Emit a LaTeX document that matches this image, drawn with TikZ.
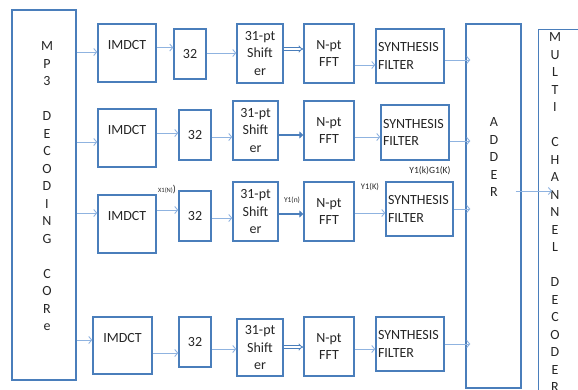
\documentclass[tikz,border=0pt]{standalone}
\usepackage{fontspec}
\setmainfont{Carlito}
\usepackage{xcolor}
\usepackage{tikz}
\usetikzlibrary{arrows.meta}
\definecolor{boxblue}{HTML}{4A7EBB}
\definecolor{lineblue}{HTML}{8FB3E0}
\definecolor{txtgray}{HTML}{262626}

\begin{document}
\begin{tikzpicture}[x=1pt,y=-1pt,
  every node/.style={font=\fontsize{14}{17.5}\selectfont,text=txtgray},
  bx/.style={draw=boxblue,line width=1.4pt,inner sep=1pt,align=center},
  im/.style={bx,text height=9pt,text depth=16pt},
  sy/.style={bx,text width=64pt,inner xsep=2pt,align=left},
  vt/.style={anchor=north,inner sep=0pt,align=center},
  tg/.style={inner sep=0pt},
  ln/.style={draw=lineblue,line width=0.9pt,-{Straight Barb[length=3pt,width=7pt]}},
  thk/.style={draw=boxblue,line width=2.8pt,-{Triangle[length=4pt,width=7pt]}},
  dbl/.style={draw=boxblue,double,double distance=1.6pt,line width=0.8pt,-{Implies}}
]
\useasboundingbox (0,0) rectangle (578,389);
\clip (0,0) rectangle (578,389);
% big blocks
\node[bx,minimum width=64pt,minimum height=370pt] (core) at (44,195) {};
\node[vt] (coretxt) at (47,41.5) {M\\P\\3\\[17.5pt]D\\E\\C\\O\\D\\I\\N\\G\\[17.5pt]C\\O\\R\\e};
\node[bx,minimum width=55pt,minimum height=364pt] (adder) at (493.5,206) {};
\node[vt] (addtxt) at (494,117.5) {A\\D\\D\\E\\R};
\node[bx,anchor=north west,minimum width=70pt,minimum height=400pt] (mcd) at (538,29) {};
\node[vt] (mcdtxt) at (555,32.5) {M\\U\\L\\T\\I\\[17.5pt]C\\H\\A\\N\\N\\E\\L\\[17.5pt]D\\E\\C\\O\\D\\E\\R};
% row 1
\node[im,minimum width=58pt,minimum height=58pt] (imdct1) at (127,53) {IMDCT};
\node[bx,minimum width=32pt,minimum height=50pt] (c1) at (190,54) {32};
\node[bx,minimum width=46pt,minimum height=59pt] (sh1) at (260,53.5) {31-pt\\Shift\\er};
\node[bx,minimum width=50pt,minimum height=59pt] (fft1) at (329,53.5) {N-pt\\FFT};
\node[sy,minimum height=54pt] (syn1) at (410,56) {SYNTHESIS\\FILTER};
% row 2
\node[im,minimum width=58pt,minimum height=58pt] (imdct2) at (127,138) {IMDCT};
\node[bx,minimum width=32pt,minimum height=50pt] (c2) at (195,135) {32};
\node[bx,minimum width=45pt,minimum height=59pt] (sh2) at (255.5,130.5) {31-pt\\Shift\\er};
\node[bx,minimum width=50pt,minimum height=59pt] (fft2) at (329,130.5) {N-pt\\FFT};
\node[sy,minimum height=55pt] (syn2) at (415,132.5) {SYNTHESIS\\FILTER};
% row 3
\node[im,minimum width=58pt,minimum height=58pt] (imdct3) at (127,224) {IMDCT};
\node[bx,minimum width=32pt,minimum height=50pt] (c3) at (195,216) {32};
\node[bx,minimum width=45pt,minimum height=59pt] (sh3) at (255.5,211.5) {31-pt\\Shift\\er};
\node[bx,minimum width=50pt,minimum height=59pt] (fft3) at (329,211.5) {N-pt\\FFT};
\node[sy,text width=63pt,minimum height=54pt] (syn3) at (419.5,209) {SYNTHESIS\\FILTER};
% row 4
\node[im,minimum width=59pt,minimum height=57pt] (imdct4) at (122.5,345.5) {IMDCT};
\node[bx,minimum width=32pt,minimum height=50pt] (c4) at (195,342) {32};
\node[bx,minimum width=46pt,minimum height=57pt] (sh4) at (260,347.5) {31-pt\\Shift\\er};
\node[bx,minimum width=50pt,minimum height=59pt] (fft4) at (329,346.5) {N-pt\\FFT};
\node[sy,minimum height=54pt] (syn4) at (410,344) {SYNTHESIS\\FILTER};
% signal names
\node[tg] (xin) at (167,190) {{\fontsize{6.5}{6.5}\selectfont X1(N)}{\fontsize{10}{10}\selectfont)}};
\node[tg,font=\fontsize{7.5}{7.5}\selectfont] (yn) at (292,200) {Y1(n)};
\node[tg,font=\fontsize{8.5}{8.5}\selectfont] (yk) at (370,187) {Y1(K)};
\node[tg,font=\fontsize{9.5}{9.5}\selectfont] (ykg) at (430,171) {Y1(k)G1(K)};
% connectors
\foreach \a/\b/\y in {core/imdct1/52,imdct1/c1/47.5,c1/sh1/53,fft1/syn1/65,
  core/imdct2/142,imdct2/c2/133,c2/sh2/137,fft2/syn2/137,
  core/imdct3/213,imdct3/c3/210,c3/sh3/218,fft3/syn3/213,
  core/imdct4/340,imdct4/c4/353,c4/sh4/349,fft4/syn4/349}
  \draw[ln] (\a.east |- 0,\y) -- (\b.west |- 0,\y);
\foreach \a/\y in {syn1/60,syn2/141,syn3/209,syn4/344}
  \draw[ln,shorten >=-5pt] (\a.east |- 0,\y) -- (adder.west |- 0,\y);
\draw[ln,shorten <=-6pt,shorten >=-14pt] (adder.east |- 0,191) -- (mcd.west |- 0,191);
\draw[dbl] (sh1.east |- 0,49) -- (fft1.west |- 0,49);
\draw[thk] (sh2.east |- 0,135) -- (fft2.west |- 0,135);
\draw[thk] (sh3.east |- 0,214) -- (fft3.west |- 0,214);
\draw[dbl] (sh4.east |- 0,347) -- (fft4.west |- 0,347);
\end{tikzpicture}
\end{document}
